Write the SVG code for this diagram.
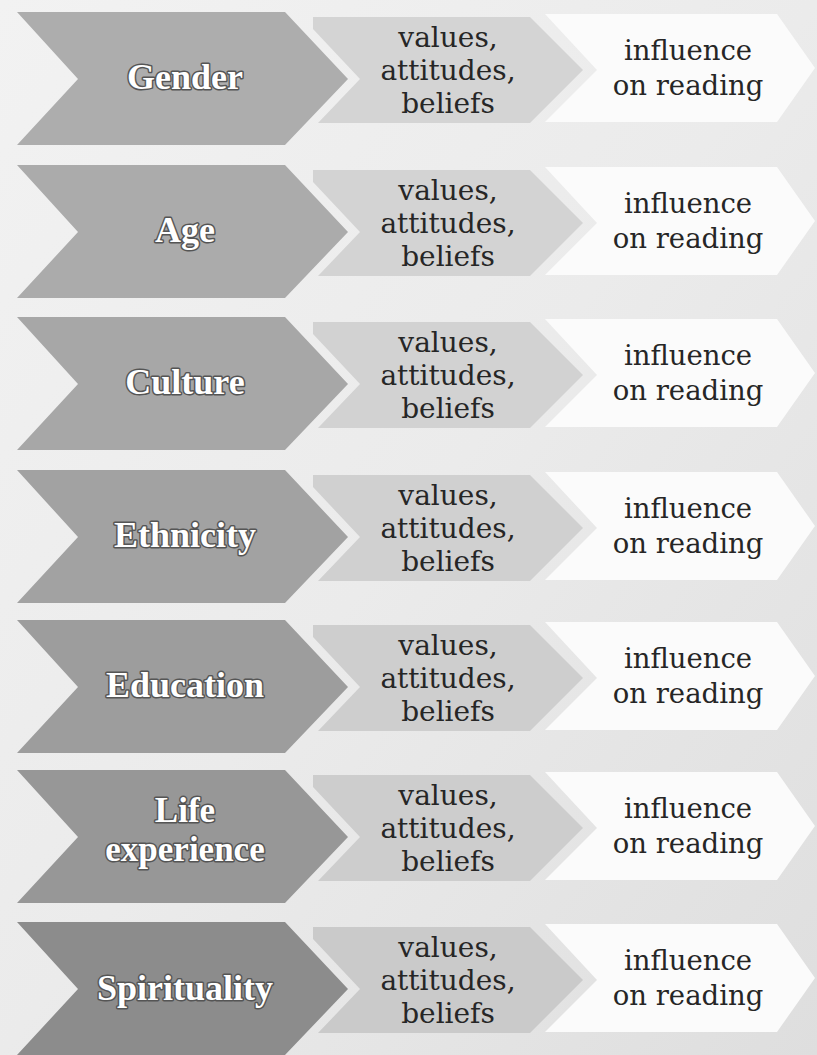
<svg xmlns="http://www.w3.org/2000/svg" width="817" height="1055" viewBox="0 0 817 1055">
<defs>
<linearGradient id="bg" x1="0" y1="0" x2="1" y2="1">
<stop offset="0" stop-color="#f2f2f2"/>
<stop offset="0.5" stop-color="#ebebeb"/>
<stop offset="1" stop-color="#dedede"/>
</linearGradient>
<polygon id="big" points="17,0 285,0 348,67 285,133 17,133 78,67"/>
<polygon id="mid" points="313,5 530,5 583,58 530,111 318,111 360,67 313,17"/>
<polygon id="wht" points="545,2 777,2 815,56 777,110 545,110 597,58"/>
</defs>
<style>
.lbl{font-family:"Liberation Serif","Times New Roman",serif;font-weight:bold;font-size:36px;fill:#ffffff;stroke:#555555;stroke-width:3px;paint-order:stroke;stroke-linejoin:round;text-anchor:middle}
.lbl2{font-size:35px}
.mt{font-family:"DejaVu Serif",serif;font-size:28px;fill:#262626;text-anchor:middle}
.rt{font-family:"DejaVu Serif",serif;font-size:27.5px;fill:#262626;text-anchor:middle}
.wt{fill:#fbfbfb}
</style>
<rect x="0" y="0" width="817" height="1055" fill="url(#bg)"/>
<g id="connectors"/>

<g id="row-gender" transform="translate(0,12)">
<use href="#mid" fill="#d4d4d4"/><use href="#wht" class="wt"/><use href="#big" fill="#adadad"/>
<text class="lbl" x="185" y="77">Gender</text>
<text class="mt" x="448" y="35">values,</text><text class="mt" x="448" y="68">attitudes,</text><text class="mt" x="448" y="101">beliefs</text>
<text class="rt" x="688" y="48">influence</text><text class="rt" x="688" y="83">on reading</text>
</g>

<g id="row-age" transform="translate(0,165)">
<use href="#mid" fill="#d3d3d3"/><use href="#wht" class="wt"/><use href="#big" fill="#ababab"/>
<text class="lbl" x="185" y="77">Age</text>
<text class="mt" x="448" y="35">values,</text><text class="mt" x="448" y="68">attitudes,</text><text class="mt" x="448" y="101">beliefs</text>
<text class="rt" x="688" y="48">influence</text><text class="rt" x="688" y="83">on reading</text>
</g>

<g id="row-culture" transform="translate(0,317)">
<use href="#mid" fill="#d2d2d2"/><use href="#wht" class="wt"/><use href="#big" fill="#a7a7a7"/>
<text class="lbl" x="185" y="77">Culture</text>
<text class="mt" x="448" y="35">values,</text><text class="mt" x="448" y="68">attitudes,</text><text class="mt" x="448" y="101">beliefs</text>
<text class="rt" x="688" y="48">influence</text><text class="rt" x="688" y="83">on reading</text>
</g>

<g id="row-ethnicity" transform="translate(0,470)">
<use href="#mid" fill="#d0d0d0"/><use href="#wht" class="wt"/><use href="#big" fill="#a2a2a2"/>
<text class="lbl" x="185" y="77">Ethnicity</text>
<text class="mt" x="448" y="35">values,</text><text class="mt" x="448" y="68">attitudes,</text><text class="mt" x="448" y="101">beliefs</text>
<text class="rt" x="688" y="48">influence</text><text class="rt" x="688" y="83">on reading</text>
</g>

<g id="row-education" transform="translate(0,620)">
<use href="#mid" fill="#cecece"/><use href="#wht" class="wt"/><use href="#big" fill="#9d9d9d"/>
<text class="lbl" x="185" y="77">Education</text>
<text class="mt" x="448" y="35">values,</text><text class="mt" x="448" y="68">attitudes,</text><text class="mt" x="448" y="101">beliefs</text>
<text class="rt" x="688" y="48">influence</text><text class="rt" x="688" y="83">on reading</text>
</g>

<g id="row-life-experience" transform="translate(0,770)">
<use href="#mid" fill="#cdcdcd"/><use href="#wht" class="wt"/><use href="#big" fill="#979797"/>
<text class="lbl lbl2" x="185" y="52">Life</text>
<text class="lbl lbl2" x="185" y="91">experience</text>
<text class="mt" x="448" y="35">values,</text><text class="mt" x="448" y="68">attitudes,</text><text class="mt" x="448" y="101">beliefs</text>
<text class="rt" x="688" y="48">influence</text><text class="rt" x="688" y="83">on reading</text>
</g>

<g id="row-spirituality" transform="translate(0,922)">
<use href="#mid" fill="#cacaca"/><use href="#wht" class="wt"/><use href="#big" fill="#8c8c8c"/>
<text class="lbl" x="185" y="78">Spirituality</text>
<text class="mt" x="448" y="35">values,</text><text class="mt" x="448" y="68">attitudes,</text><text class="mt" x="448" y="101">beliefs</text>
<text class="rt" x="688" y="48">influence</text><text class="rt" x="688" y="83">on reading</text>
</g>
</svg>
